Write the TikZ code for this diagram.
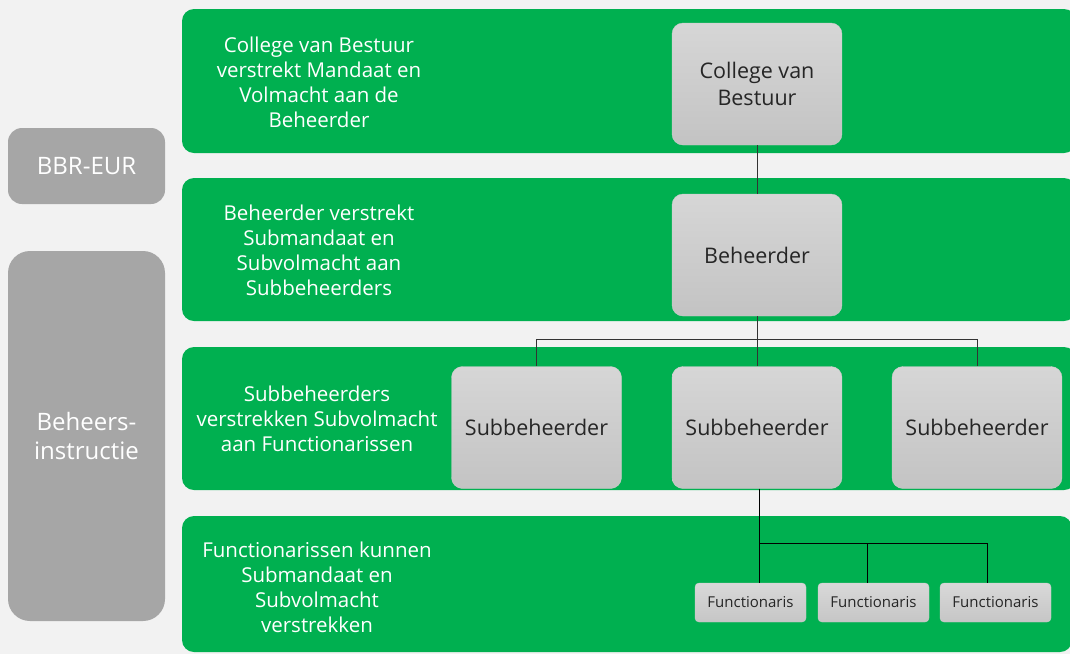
\documentclass[tikz,border=0pt]{standalone}
\usepackage{fontspec}
\setmainfont{Open Sans}
\usetikzlibrary{positioning,calc}

\definecolor{bandgreen}{HTML}{00B050}
\definecolor{sidegray}{HTML}{A6A6A6}
\definecolor{pagegray}{HTML}{F2F2F2}

\tikzset{
  band/.style={fill=bandgreen,rounded corners=12pt},
  bandtext/.style={text=white,align=center,font=\fontsize{20.5}{25}\selectfont},
  side/.style={fill=sidegray,rounded corners=14pt,text=white,align=center,
    inner sep=0pt,minimum width=157pt,font=\fontsize{24}{29}\selectfont},
  bigbox/.style={rounded corners=11pt,top color=gray!32,bottom color=gray!47,
    draw=gray!40,align=center,inner sep=0pt,minimum width=170pt,minimum height=122pt,
    text=black!85,font=\fontsize{21.5}{27}\selectfont},
  smallbox/.style={rounded corners=4pt,top color=gray!30,bottom color=gray!45,
    draw=gray!40,inner sep=0pt,minimum width=111pt,minimum height=39pt,
    text=black!85,font=\fontsize{15}{17}\selectfont},
  conn/.style={draw=black!80,line width=0.8pt}
}

\begin{document}
\begin{tikzpicture}[x=1pt,y=-1pt]
\fill[pagegray] (0,0) rectangle (1070,654);
\useasboundingbox (0,0) rectangle (1070,654);

% bands
\fill[band] (182,9) rectangle (1076,153);
\fill[band] (182,178) rectangle (1076,321);
\fill[band] (182,347) rectangle (1076,490);
\fill[band] (182,516) rectangle (1072,652);

\node[bandtext] (t1) at (319,82) {College van Bestuur\\verstrekt Mandaat en\\Volmacht aan de\\Beheerder};
\node[bandtext] (t2) at (319,250) {Beheerder verstrekt\\Submandaat en\\Subvolmacht aan\\Subbeheerders};
\node[bandtext] (t3) at (317,419) {Subbeheerders\\verstrekken Subvolmacht\\aan Functionarissen};
\node[bandtext] (t4) at (317,587) {Functionarissen kunnen\\Submandaat en\\Subvolmacht\\verstrekken};

% side labels
\node[side,minimum height=76pt] (bbr) at (86.5,166) {BBR-EUR};
\node[side,minimum height=370pt,rounded corners=22pt] (instr) at (86.5,436) {Beheers-\\instructie};

% hierarchy
\node[bigbox] (cvb) at (757,84) {College van\\Bestuur};
\node[bigbox] (beh) at (757,255) {Beheerder};
\node[bigbox] (sub1) at (536.5,427.5) {Subbeheerder};
\node[bigbox] (sub2) at (757,427.5) {Subbeheerder};
\node[bigbox] (sub3) at (977,427.5) {Subbeheerder};

\node[smallbox] (f1) at (750.5,602.5) {Functionaris};
\node[smallbox] (f2) at (873.5,602.5) {Functionaris};
\node[smallbox] (f3) at (995.5,602.5) {Functionaris};

\draw[conn] (cvb) -- (beh);
\coordinate (sbus) at ($(beh.south)+(0,23)$);
\draw[conn] (beh.south) -- (sbus) -| (sub1.north);
\draw[conn] (sbus) -| (sub3.north);
\draw[conn] (sbus) -- (sub2.north);

\coordinate (fbus) at ($(sub2.south)+(2,55)$);
\coordinate (d1) at ([xshift=8.5pt]f1.north);
\coordinate (d2) at ([xshift=-6pt]f2.north);
\coordinate (d3) at ([xshift=-8pt]f3.north);
\draw[conn,draw=black,line width=0.6pt] ([xshift=2pt]sub2.south) -- (d1);
\draw[conn,draw=black,line width=0.6pt] (fbus) -| (d3);
\draw[conn,draw=black,line width=0.6pt] (fbus -| d2) -- (d2);

\end{tikzpicture}
\end{document}
